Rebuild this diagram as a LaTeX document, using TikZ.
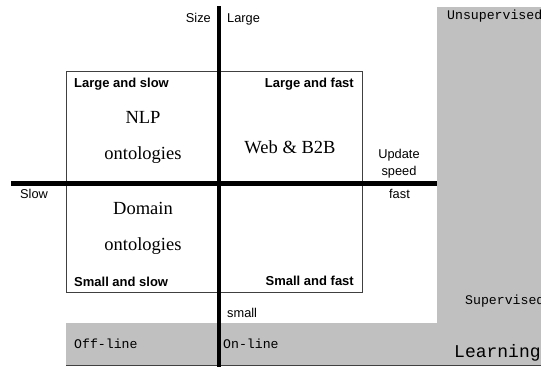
\documentclass[tikz,border=0pt]{standalone}
\usepackage{fontspec}
\setmainfont{Liberation Serif}
\setsansfont{Liberation Sans}
\setmonofont{Liberation Mono}
\definecolor{panelgray}{HTML}{C0C0C0}
\definecolor{rulegray}{HTML}{404040}

\begin{document}
\begin{tikzpicture}[x=1pt,y=-1pt,
  lbl/.style={font=\sffamily\fontsize{12.8}{15}\selectfont, inner sep=0},
  corner/.style={font=\sffamily\bfseries\fontsize{13}{15}\selectfont, inner sep=0},
  topic/.style={font=\rmfamily\fontsize{18.5}{20}\selectfont, inner sep=0},
  mode/.style={font=\ttfamily\fontsize{13.2}{15}\selectfont, inner sep=0},
  bigmode/.style={font=\ttfamily\fontsize{18}{20}\selectfont, inner sep=0},
]
\clip (0,0) rectangle (541,367);

% learning panels: supervised column and on/off-line band
\fill[panelgray] (437,7) rectangle (541,323);
\fill[panelgray] (66,323) rectangle (541,364.5);
\draw[rulegray, line width=1pt] (66,365) -- (541,365);

% quadrant frame
\draw[rulegray, line width=0.8pt] (66,71) rectangle (362,292);

% axes
\coordinate (ytop) at (219,6);
\coordinate (ybot) at (219,367);
\coordinate (xl) at (11,183.5);
\coordinate (xr) at (437,183.5);
\draw[line width=4pt] (ytop) -- (ybot);
\draw[line width=5pt] (xl) -- (xr);

% axis labels
\node[lbl, anchor=base east] (size) at (211,22) {Size};
\node[lbl, anchor=base west] (large) at (227,22) {Large};
\node[lbl, anchor=base] (upd) at (399,158) {Update};
\node[lbl, anchor=base] (spd) at (399,175) {speed};
\node[lbl, anchor=base] (fast) at (399.5,198) {fast};
\node[lbl, anchor=base west] (slow) at (20,198) {Slow};
\node[lbl, anchor=base west] (small) at (227,317) {small};

% quadrant corners
\node[corner, anchor=base west] (ls) at (74,87) {Large and slow};
\node[corner, anchor=base east] (lf) at (354,87) {Large and fast};
\node[corner, anchor=base west] (ss) at (74,286) {Small and slow};
\node[corner, anchor=base east] (sf) at (354,285) {Small and fast};

% ontology kinds
\node[topic, anchor=base] (nlp) at (143,123) {NLP};
\node[topic, anchor=base] (ont1) at (143,159) {ontologies};
\node[topic, anchor=base] (web) at (290,153) {Web \& B2B};
\node[topic, anchor=base] (dom) at (143,214) {Domain};
\node[topic, anchor=base] (ont2) at (143,250) {ontologies};

% learning modes
\node[mode, anchor=base west] (off) at (74,348) {Off-line};
\node[mode, anchor=base west] (on) at (223,348) {On-line};
\node[mode, anchor=base west] (unsup) at (447,19) {Unsupervised};
\node[mode, anchor=base west] (sup) at (465,304) {Supervised};
\node[bigmode, anchor=base west] (learn) at (454,357) {Learning};
\end{tikzpicture}
\end{document}
